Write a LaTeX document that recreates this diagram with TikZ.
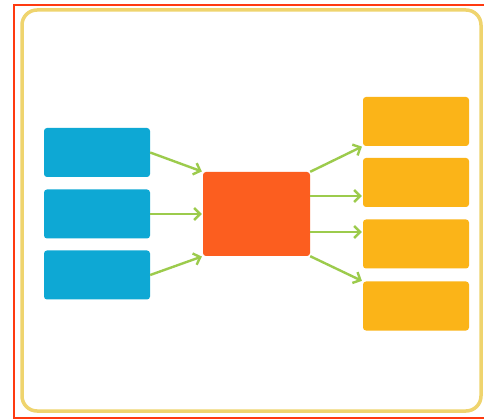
\documentclass[tikz,border=0pt]{standalone}
\usetikzlibrary{arrows.meta}
\definecolor{bluebox}{HTML}{0EA8D4}
\definecolor{orangebox}{HTML}{FC5E1F}
\definecolor{yellowbox}{HTML}{FBB418}
\definecolor{arrowgreen}{HTML}{9CCB4C}
\definecolor{framered}{HTML}{FF3A10}
\definecolor{frameyellow}{HTML}{EFD46E}
\tikzset{
  box/.style={draw=none, rounded corners=3pt, minimum width=106pt, minimum height=49pt, inner sep=0pt},
  inbox/.style={box, fill=bluebox},
  outbox/.style={box, fill=yellowbox},
  hub/.style={draw=none, fill=orangebox, rounded corners=3pt, minimum width=107pt, minimum height=84pt, inner sep=0pt},
  arr/.style={draw=arrowgreen, line width=2.4pt, -{Straight Barb[length=6pt,width=12pt,line width=2.4pt]}, shorten >=1pt}
}
\begin{document}
\begin{tikzpicture}[x=1pt,y=-1pt]
\useasboundingbox (0,0) rectangle (484,419);
\fill[white] (0,0) rectangle (484,419);
\draw[framered, line width=2pt] (14,5) rectangle (492,417.5);
\draw[frameyellow, line width=3.5pt, rounded corners=15pt] (22,10) rectangle (481,411);
% input boxes
\node[inbox] (b1) at (97,152.5) {};
\node[inbox] (b2) at (97,214) {};
\node[inbox] (b3) at (97,275) {};
% hub
\node[hub] (o) at (256.5,214) {};
% output boxes
\node[outbox] (y1) at (416,121.5) {};
\node[outbox] (y2) at (416,182.5) {};
\node[outbox] (y3) at (416,244) {};
\node[outbox] (y4) at (416,306) {};
% arrows in
\draw[arr] (b1.east) -- (o.north west);
\draw[arr] (b2.east) -- (o.west);
\draw[arr] (b3.east) -- (o.south west);
% arrows out
\draw[arr] (o.north east) -- (y1.south west);
\draw[arr] ([yshift=18pt]o.east) -- ([yshift=18pt]o.east -| y2.west);
\draw[arr] ([yshift=-18pt]o.east) -- ([yshift=-18pt]o.east -| y3.west);
\draw[arr] (o.south east) -- (y4.north west);
\end{tikzpicture}
\end{document}
